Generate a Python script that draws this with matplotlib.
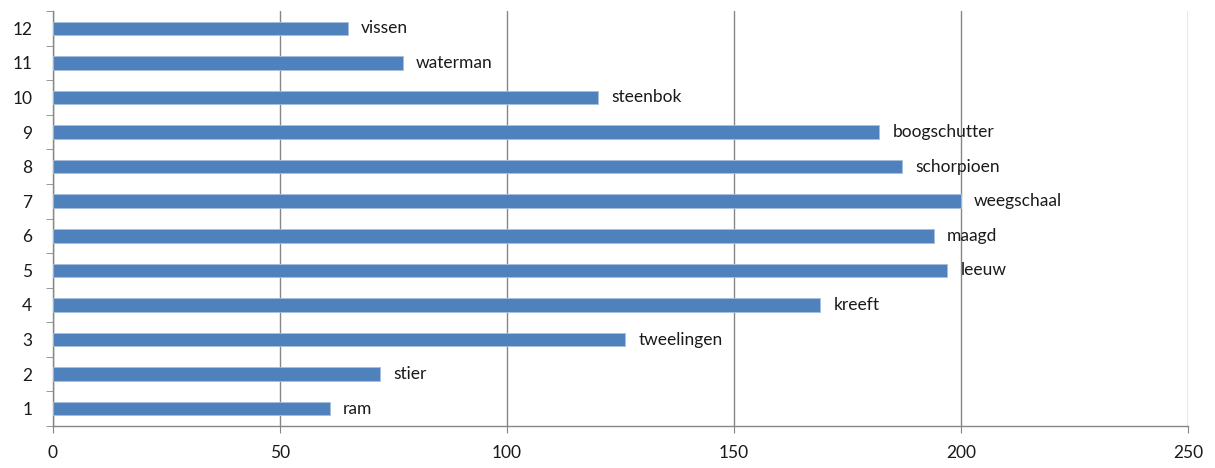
import matplotlib.pyplot as plt
import numpy as np

signs = ['ram', 'stier', 'tweelingen', 'kreeft', 'leeuw', 'maagd',
         'weegschaal', 'schorpioen', 'boogschutter', 'steenbok', 'waterman', 'vissen']
values = [61, 72, 126, 169, 197, 194, 200, 187, 182, 120, 77, 65]
positions = list(range(1, 13))

plt.rcParams['font.family'] = ['Lato', 'DejaVu Sans']

fig = plt.figure(figsize=(12.15, 4.68), dpi=100)
ax = fig.add_axes([0.0436, 0.0897, 0.9342, 0.8868])

ax.barh(positions, values, height=0.39, color='#4F81BD', edgecolor='#A7C0DE', linewidth=0.6, zorder=3)

for p, v, s in zip(positions, values, signs):
    ax.annotate(s, (v, p), xytext=(9.5, 0), textcoords='offset points',
                va='center', ha='left', fontsize=12.5, color='#1a1a1a', zorder=4)

ax.set_xlim(0, 250)
ax.set_ylim(0.5, 12.5)
ax.set_xticks([0, 50, 100, 150, 200, 250])
ax.set_yticks(positions)
ax.set_yticks(np.arange(0.5, 13, 1), minor=True)
ax.tick_params(axis='y', which='major', length=0, pad=15, labelsize=12.5, labelcolor='#1a1a1a')
ax.tick_params(axis='y', which='minor', length=5, color='#868686', direction='out')
ax.tick_params(axis='x', length=5, color='#868686', pad=9, labelsize=12.5, labelcolor='#1a1a1a')

ax.grid(axis='x', color='#868686', linewidth=1, zorder=0)
for side in ['top', 'right']:
    ax.spines[side].set_visible(False)
for side in ['left', 'bottom']:
    ax.spines[side].set_color('#868686')
    ax.spines[side].set_linewidth(1)

fig.savefig('out.png', dpi=100)
